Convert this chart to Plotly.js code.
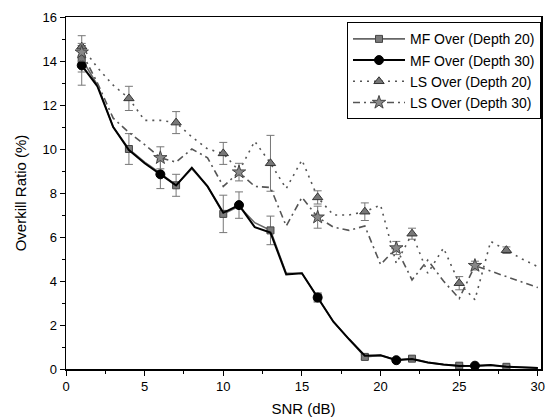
<!DOCTYPE html>
<html>
<head>
<meta charset="utf-8">
<script src="https://cdn.plot.ly/plotly-3.0.1.min.js"></script>
<style>
  html, body { margin: 0; padding: 0; background: #fff; }
  #chart { width: 555px; height: 419px; }
</style>
</head>
<body>
<div id="chart"></div>
<script>
// ---- data ----
const snr = [1,2,3,4,5,6,7,8,9,10,11,12,13,14,15,16,17,18,19,20,21,22,23,24,25,26,27,28,29,30];

const mf20 = [14.1,12.9,11.0,10.0,9.4,8.9,8.35,9.1,8.3,7.05,7.4,6.65,6.3,4.35,4.35,3.25,2.15,1.35,0.55,0.62,0.42,0.47,0.3,0.2,0.15,0.12,0.17,0.1,0.08,0.05];
const mf30 = [13.8,12.85,11.0,9.95,9.35,8.85,8.35,9.15,8.3,7.1,7.45,6.45,6.2,4.3,4.35,3.25,2.15,1.35,0.6,0.62,0.4,0.45,0.3,0.2,0.14,0.15,0.18,0.1,0.08,0.05];
const ls20 = [14.65,13.7,12.9,12.3,11.3,11.3,11.2,10.55,10.0,9.8,9.0,10.35,9.35,8.2,9.5,7.8,7.0,7.0,7.15,7.45,4.8,6.15,4.35,5.5,3.9,3.15,5.8,5.4,5.0,4.65];
const ls30 = [14.4,13.0,11.4,10.75,10.2,9.6,9.4,10.0,9.6,8.3,8.95,8.3,8.25,6.5,7.8,6.9,6.45,6.3,6.5,4.75,5.5,4.05,4.95,4.0,3.2,4.7,4.45,4.2,3.95,3.7];

// SNR values that carry a marker + error bar, and the error half-widths there
const mf20Marks = [1,4,7,10,13,16,19,22,25,28];
const mf20Err   = [0.6,0.7,0.5,0.85,0.65,0.2,0.1,0.1,0.05,0.05];
const mf30Marks = [1,6,11,16,21,26];
const mf30Err   = [0.9,0.65,0.6,0.2,0.05,0.05];
const ls20Marks = [1,4,7,10,13,16,19,22,25,28];
const ls20Err   = [0.5,0.55,0.5,0.5,1.27,0.3,0.4,0.25,0.3,0.15];
const ls30Marks = [1,6,11,16,21,26];
const ls30Err   = [0.4,0.5,0.4,0.5,0.3,0.2];

const seriesNames = ["MF Over (Depth 20)","MF Over (Depth 30)","LS Over (Depth 20)","LS Over (Depth 30)"];

// ---- build traces ----
function makeTrace(name, y, marks, errs, style) {
  const colors = snr.map(x => marks.indexOf(x) >= 0 ? style.mcolor : 'rgba(0,0,0,0)');
  const lcolors = snr.map(x => marks.indexOf(x) >= 0 ? style.mline : 'rgba(0,0,0,0)');
  const err = snr.map(x => { const i = marks.indexOf(x); return i >= 0 ? errs[i] : NaN; });
  return {
    type: 'scatter', mode: 'lines+markers', name: name,
    x: snr, y: y,
    line: { color: style.lcolor, width: style.lwidth, dash: style.dash },
    marker: { symbol: style.symbol, size: style.msize, color: colors,
              line: { color: lcolors, width: 1 } },
    error_y: { type: 'data', array: err, visible: true, color: '#777', thickness: 1, width: 4 },
    cliponaxis: false
  };
}

const traces = [
  makeTrace(seriesNames[0], mf20, mf20Marks, mf20Err,
    { lcolor: '#666', lwidth: 1.6, dash: 'solid', symbol: 'square', msize: 7, mcolor: '#7a7a7a', mline: '#444' }),
  makeTrace(seriesNames[1], mf30, mf30Marks, mf30Err,
    { lcolor: '#000', lwidth: 2, dash: 'solid', symbol: 'circle', msize: 9, mcolor: '#000', mline: '#000' }),
  makeTrace(seriesNames[2], ls20, ls20Marks, ls20Err,
    { lcolor: '#555', lwidth: 1.6, dash: '2px,5px', symbol: 'triangle-up', msize: 9, mcolor: '#777', mline: '#333' }),
  makeTrace(seriesNames[3], ls30, ls30Marks, ls30Err,
    { lcolor: '#555', lwidth: 1.6, dash: '7px,4px,2px,4px', symbol: 'star', msize: 10, mcolor: '#888', mline: '#444' })
];

const font = { family: 'Liberation Sans, Arial, sans-serif', color: '#000' };

const layout = {
  width: 555, height: 419,
  margin: { l: 66, r: 14, t: 17, b: 50 },
  paper_bgcolor: '#fff', plot_bgcolor: '#fff',
  font: Object.assign({ size: 13 }, font),
  showlegend: true,
  legend: {
    x: 1.0, y: 0.985, xanchor: 'right', yanchor: 'top',
    bgcolor: '#fff', bordercolor: '#000', borderwidth: 1,
    font: Object.assign({ size: 14 }, font),
    tracegroupgap: 0, itemwidth: 52
  },
  xaxis: {
    range: [0, 30.2], tick0: 0, dtick: 5,
    showgrid: false, zeroline: false,
    showline: true, linecolor: '#000', linewidth: 1.5, mirror: true,
    ticks: 'outside', ticklen: 5, tickwidth: 1, tickcolor: '#000',
    minor: { dtick: 2.5, ticks: 'outside', ticklen: 3, tickcolor: '#000', showgrid: false },
    tickfont: Object.assign({ size: 13 }, font),
    title: { text: 'SNR (dB)', font: Object.assign({ size: 15 }, font), standoff: 10 }
  },
  yaxis: {
    range: [0, 16], tick0: 0, dtick: 2,
    showgrid: false, zeroline: false,
    showline: true, linecolor: '#000', linewidth: 1.5, mirror: true,
    ticks: 'outside', ticklen: 5, tickwidth: 1, tickcolor: '#000',
    minor: { dtick: 1, ticks: 'outside', ticklen: 3, tickcolor: '#000', showgrid: false },
    tickfont: Object.assign({ size: 13 }, font),
    title: { text: 'Overkill Ratio (%)', font: Object.assign({ size: 15 }, font), standoff: 12 }
  }
};

Plotly.newPlot('chart', traces, layout, { staticPlot: true, displayModeBar: false });
</script>
</body>
</html>
